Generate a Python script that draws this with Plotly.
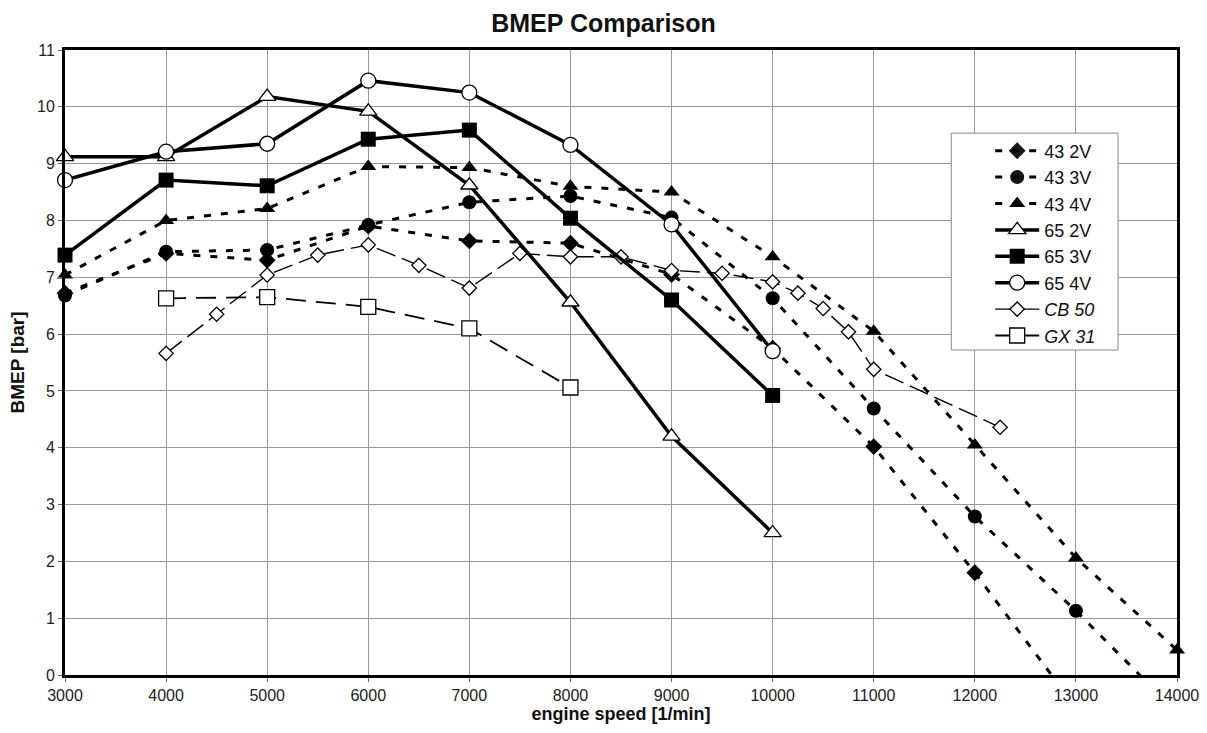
import plotly.graph_objects as go

speed = [3000, 4000, 5000, 6000, 7000, 8000, 9000, 10000, 11000, 12000, 13000, 14000]

bmep_43_2v = [6.72, 7.42, 7.30, 7.90, 7.64, 7.60, 7.05, 5.75, 4.02, 1.80, -0.57]
bmep_43_3v = [6.68, 7.45, 7.48, 7.92, 8.32, 8.43, 8.05, 6.63, 4.69, 2.79, 1.13, -0.66]
bmep_43_4v = [7.04, 8.00, 8.21, 8.95, 8.93, 8.60, 8.50, 7.36, 6.05, 4.05, 2.06, 0.44]

speed_65 = [3000, 4000, 5000, 6000, 7000, 8000, 9000, 10000]
bmep_65_2v = [9.12, 9.12, 10.18, 9.92, 8.62, 6.56, 4.20, 2.50]
bmep_65_3v = [7.39, 8.71, 8.61, 9.43, 9.59, 8.04, 6.60, 4.92]
bmep_65_4v = [8.71, 9.21, 9.35, 10.46, 10.25, 9.33, 7.93, 5.70]

speed_cb50 = [4000, 4500, 5000, 5500, 6000, 6500, 7000, 7500, 8000, 8500,
              9000, 9500, 10000, 10250, 10500, 10750, 11000, 12250]
bmep_cb50 = [5.66, 6.35, 7.04, 7.39, 7.57, 7.21, 6.81, 7.42, 7.36, 7.36,
             7.12, 7.07, 6.92, 6.72, 6.45, 6.04, 5.38, 4.36]

speed_gx31 = [4000, 5000, 6000, 7000, 8000]
bmep_gx31 = [6.63, 6.65, 6.48, 6.10, 5.06]

FONT = "Liberation Sans, Arial, sans-serif"
DOT = "7px,10px"

fig = go.Figure()


def vis(ys):
    return [1 if y >= 0 else 0 for y in ys]


def add(name, xs, ys, symbol, size, filled, width, dash):
    fig.add_trace(go.Scatter(
        x=xs[:len(ys)], y=ys, name=name, mode="lines+markers",
        line=dict(color="black", width=width, dash=dash),
        marker=dict(symbol=symbol, size=size,
                    color="black" if filled else "white",
                    opacity=vis(ys),
                    line=dict(color="black", width=0 if filled else 1.3)),
        cliponaxis=False,
    ))


add("43 2V", speed, bmep_43_2v, "diamond", 13, True, 3, DOT)
add("43 3V", speed, bmep_43_3v, "circle", 14, True, 3, DOT)
add("43 4V", speed, bmep_43_4v, "triangle-up", 14, True, 3, DOT)
add("<i>CB 50</i>", speed_cb50, bmep_cb50, "diamond", 11, False, 1.4, "20px,7px")
add("<i>GX 31</i>", speed_gx31, bmep_gx31, "square", 15, False, 1.8, "20px,10px")
add("65 2V", speed_65, bmep_65_2v, "triangle-up", 15, False, 3.5, "solid")
add("65 3V", speed_65, bmep_65_3v, "square", 15, True, 3.5, "solid")
add("65 4V", speed_65, bmep_65_4v, "circle", 15, False, 3.5, "solid")

# legend order as in reference
order = ["43 2V", "43 3V", "43 4V", "65 2V", "65 3V", "65 4V", "<i>CB 50</i>", "<i>GX 31</i>"]
for t in fig.data:
    t.legendrank = order.index(t.name) + 1

# legend frame (white box that hides grid and lines beneath)
fig.add_shape(type="rect", xref="paper", yref="paper",
              x0=0.797, x1=0.947, y0=0.52, y1=0.867,
              fillcolor="white", line=dict(color="#888", width=1), layer="above")

fig.update_layout(
    width=1207, height=733,
    margin=dict(l=65, r=30, t=50, b=58, autoexpand=False),
    paper_bgcolor="white", plot_bgcolor="white",
    font=dict(family=FONT, color="#222", size=12),
    title=dict(text="<b>BMEP Comparison</b>", x=0.5, xanchor="center",
               y=0.968, yanchor="middle", font=dict(size=25, color="#111")),
    showlegend=True,
    legend=dict(x=0.832, y=0.868, xanchor="left", yanchor="top",
                bgcolor="rgba(0,0,0,0)", borderwidth=0,
                font=dict(size=18, color="#111"), itemwidth=44,
                tracegroupgap=0, traceorder="normal"),
)

fig.update_xaxes(
    range=[3000, 14000], dtick=1000, tick0=3000, tickformat="d",
    automargin=False,
    showgrid=True, gridcolor="#999", gridwidth=1,
    showline=True, linecolor="black", linewidth=3, mirror=True,
    ticks="outside", ticklen=4, tickcolor="#666",
    tickfont=dict(size=16, color="#222"),
    title=dict(text="<b>engine speed [1/min]</b>", font=dict(size=18, color="#111"), standoff=2),
    zeroline=False,
)
fig.update_yaxes(
    range=[0, 11], dtick=1,
    automargin=False,
    showgrid=True, gridcolor="#999", gridwidth=1,
    showline=True, linecolor="black", linewidth=3, mirror=True,
    ticks="outside", ticklen=4, tickcolor="#666",
    tickfont=dict(size=16, color="#222"),
    title=dict(text="<b>BMEP [bar]</b>", font=dict(size=19, color="#111"), standoff=8),
    zeroline=False,
)

fig.write_html("out.html")
